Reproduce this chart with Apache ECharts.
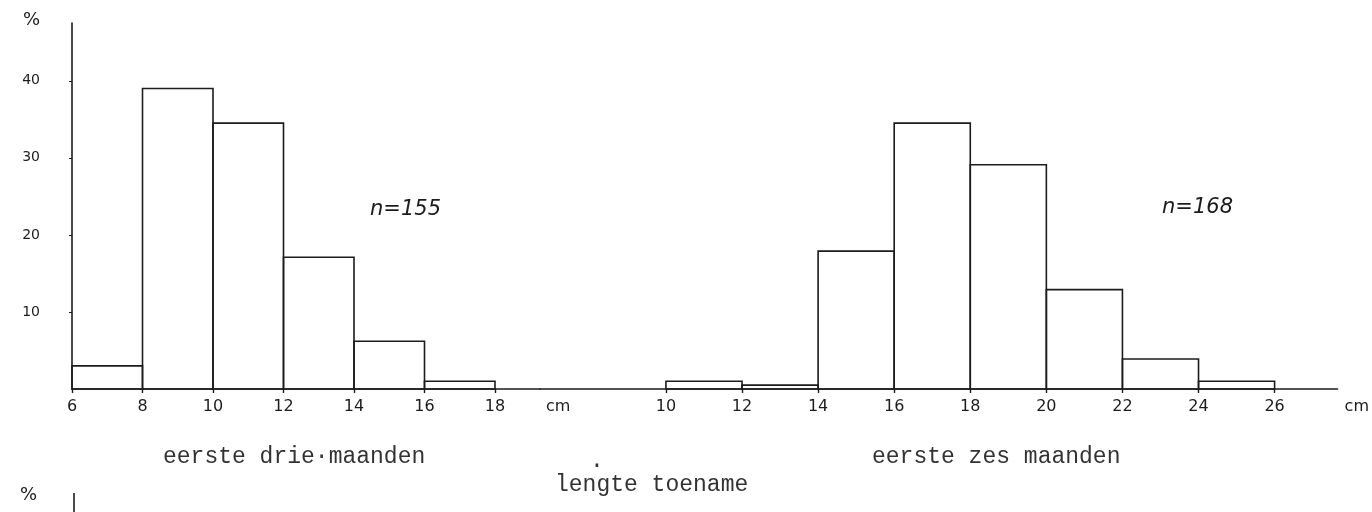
<!DOCTYPE html>
<html lang="nl">
<head>
    <meta charset="UTF-8">
    <title>lengte toename</title>
    <script src="https://cdn.jsdelivr.net/npm/echarts@6/dist/echarts.min.js"></script>
    <style>
        html, body { margin: 0; padding: 0; background: #fff; }
        #main { width: 1372px; height: 512px; }
    </style>
</head>
<body>
<div id="main"></div>
<script>
    // klassen (begin van elke klasse, breedte 2 cm) en percentages
    var binWidth = 2;
    var drieStart = [6, 8, 10, 12, 14, 16];
    var driePct = [3.0, 39.0, 34.5, 17.1, 6.2, 1.0];
    var zesStart = [10, 12, 14, 16, 18, 20, 22, 24];
    var zesPct = [1.0, 0.5, 17.9, 34.5, 29.1, 12.9, 3.9, 1.0];
    var drieTicks = [6, 8, 10, 12, 14, 16, 18];
    var zesTicks = [10, 12, 14, 16, 18, 20, 22, 24, 26];
    var yTicks = [10, 20, 30, 40];

    var ink = '#1c1c1c';
    var hand = '"DejaVu Sans", sans-serif';
    var typewriter = '"Liberation Mono", "DejaVu Sans Mono", monospace';

    function bins(starts, pct) {
        return starts.map(function (s, i) {
            return [s, s + binWidth, pct[i]];
        });
    }

    function renderBin(params, api) {
        var topLeft = api.coord([api.value(0), api.value(2)]);
        var bottomRight = api.coord([api.value(1), 0]);
        return {
            type: 'rect',
            shape: {
                x: topLeft[0],
                y: topLeft[1],
                width: bottomRight[0] - topLeft[0],
                height: bottomRight[1] - topLeft[1]
            },
            style: {fill: 'none', stroke: ink, lineWidth: 1.6}
        };
    }

    function xAxisFor(index, min, max, ticks, gap) {
        return {
            type: 'value',
            gridIndex: index,
            min: min,
            max: max,
            splitLine: {show: false},
            axisLine: {show: true, onZero: false, lineStyle: {color: ink, width: 1.6}},
            axisTick: {show: true, length: 4, customValues: ticks, lineStyle: {color: ink, width: 1.4}},
            axisLabel: {customValues: ticks, margin: 10, fontSize: 16, color: ink, fontFamily: hand},
            name: 'cm',
            nameLocation: 'end',
            nameGap: gap,
            nameTextStyle: {fontSize: 16, color: ink, fontFamily: hand, verticalAlign: 'top', padding: [10, 0, 0, 0]}
        };
    }

    var myChart = echarts.init(document.getElementById('main'));
    var option = {
        animation: false,
        backgroundColor: '#fff',
        grid: [
            {left: 72, top: 23, width: 468, height: 366},
            {left: 540, top: 23, width: 798, height: 366}
        ],
        xAxis: [
            xAxisFor(0, 6, 6 + 468 / 35.25, drieTicks, 6),
            xAxisFor(1, 10 - 126 / 38.06, 10 - 126 / 38.06 + 798 / 38.06, zesTicks, 7)
        ],
        yAxis: [
            {
                type: 'value',
                gridIndex: 0,
                min: 0,
                max: 47.5,
                splitLine: {show: false},
                axisLine: {show: true, lineStyle: {color: ink, width: 1.6}},
                axisTick: {show: true, length: 3, customValues: yTicks, lineStyle: {color: ink}},
                axisLabel: {customValues: yTicks, margin: 32, fontSize: 14, color: ink, fontFamily: hand},
                name: '%',
                nameLocation: 'end',
                nameGap: -6,
                nameTextStyle: {fontSize: 18, color: ink, fontFamily: hand, align: 'right', padding: [0, 32, 0, 0]}
            },
            {type: 'value', gridIndex: 1, min: 0, max: 47.5, show: false}
        ],
        series: [
            {
                type: 'custom',
                xAxisIndex: 0,
                yAxisIndex: 0,
                renderItem: renderBin,
                encode: {x: [0, 1], y: 2},
                data: bins(drieStart, driePct)
            },
            {
                type: 'custom',
                xAxisIndex: 1,
                yAxisIndex: 1,
                renderItem: renderBin,
                encode: {x: [0, 1], y: 2},
                data: bins(zesStart, zesPct)
            }
        ],
        graphic: [
            {type: 'text', left: 370, top: 199, style: {text: 'n=155', font: 'italic 21px ' + hand, fill: ink}},
            {type: 'text', left: 1162, top: 197, style: {text: 'n=168', font: 'italic 21px ' + hand, fill: ink}},
            {type: 'text', left: 163, top: 445, style: {text: 'eerste drie·maanden', font: '23px ' + typewriter, fill: '#333'}},
            {type: 'text', left: 590, top: 449, style: {text: '.', font: '23px ' + typewriter, fill: '#333'}},
            {type: 'text', left: 872, top: 445, style: {text: 'eerste zes maanden', font: '23px ' + typewriter, fill: '#333'}},
            {type: 'text', left: 555, top: 473, style: {text: 'lengte toename', font: '23px ' + typewriter, fill: '#333'}},
            // begin van de volgende figuur (afgesneden)
            {type: 'text', left: 20, top: 486, style: {text: '%', font: '18px ' + hand, fill: ink}},
            {type: 'line', shape: {x1: 74, y1: 493, x2: 74, y2: 512}, style: {stroke: ink, lineWidth: 1.6}}
        ]
    };
    myChart.setOption(option);
</script>
</body>
</html>
